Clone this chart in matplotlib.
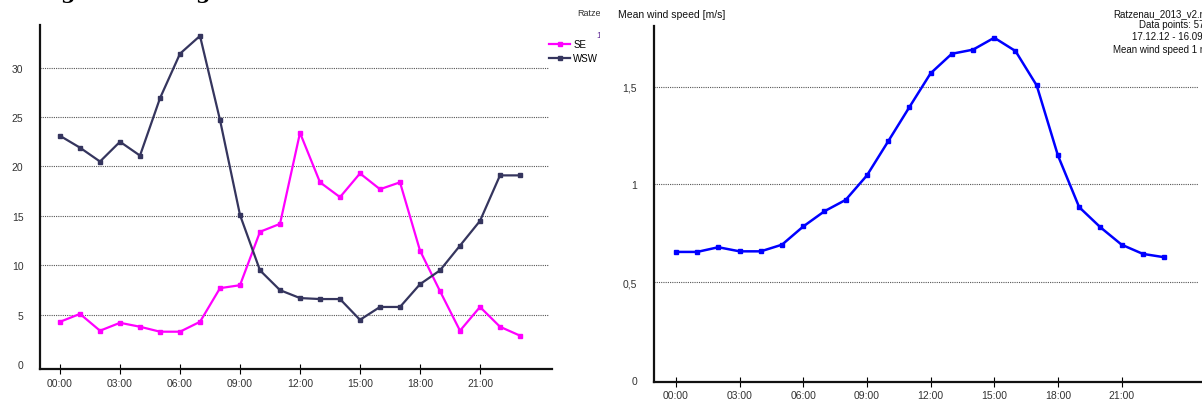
#!/usr/bin/env python3
"""Diurnal wind curves: frequency of SE/WSW directions and mean wind speed per hour."""

import matplotlib
matplotlib.use('Agg')
import matplotlib.pyplot as plt
from matplotlib.ticker import FuncFormatter
from matplotlib.transforms import Bbox

plt.rcParams['font.family'] = ['Liberation Sans', 'DejaVu Sans']

HOURS = list(range(24))
TICK_HOURS = [0, 3, 6, 9, 12, 15, 18, 21]
TICK_LABELS = ['00:00', '03:00', '06:00', '09:00', '12:00', '15:00', '18:00', '21:00']

SE = [4.3, 5.1, 3.4, 4.2, 3.8, 3.3, 3.3, 4.3, 7.7, 8.0, 13.4, 14.2,
      23.4, 18.4, 16.9, 19.3, 17.7, 18.4, 11.5, 7.4, 3.4, 5.8, 3.8, 2.9]
WSW = [23.1, 21.9, 20.5, 22.5, 21.1, 26.9, 31.4, 33.2, 24.7, 15.1, 9.5, 7.5,
       6.7, 6.6, 6.6, 4.5, 5.8, 5.8, 8.1, 9.5, 12.0, 14.5, 19.1, 19.1]
SPEED = [0.655, 0.655, 0.679, 0.658, 0.658, 0.692, 0.785, 0.863, 0.921, 1.046,
         1.22, 1.395, 1.568, 1.668, 1.689, 1.75, 1.682, 1.506, 1.148, 0.884,
         0.781, 0.692, 0.645, 0.628]

W, H = 1202, 402
TXT = '#333333'


def px_axes(fig, x0, y0, x1, y1):
    return fig.add_axes([x0 / W, 1 - y1 / H, (x1 - x0) / W, (y1 - y0) / H])


def style(ax, grid_vals, grid_end):
    for s in ('top', 'right'):
        ax.spines[s].set_visible(False)
    for s in ('left', 'bottom'):
        ax.spines[s].set_linewidth(1.6)
        ax.spines[s].set_color('#111111')
    for g in grid_vals:
        ax.plot([ax.get_xlim()[0], grid_end], [g, g], color='#555555',
                linestyle=(0, (1, 1)), linewidth=0.8, zorder=0)
    ax.set_xticks(TICK_HOURS)
    ax.set_xticklabels(TICK_LABELS)
    ax.tick_params(axis='x', direction='inout', length=7, width=0.8,
                   labelsize=7.5, labelcolor=TXT, pad=3)
    ax.tick_params(axis='y', length=0, labelsize=7.5, labelcolor=TXT, pad=12)


fig = plt.figure(figsize=(W / 100, H / 100), dpi=100)
left_clip = Bbox.from_extents(0, 0, 600, H)

# left panel: direction frequencies
ax1 = px_axes(fig, 40, 26, 552, 369.6)
ax1.plot(HOURS, SE, color='#ff00ff', lw=1.6, marker='s', ms=2.6, label='SE')
ax1.plot(HOURS, WSW, color='#35355e', lw=1.6, marker='s', ms=2.6, label='WSW')
ax1.set_xlim(-1, 24.6)
ax1.set_ylim(-0.43, 34.3)
ax1.set_yticks([0, 5, 10, 15, 20, 25, 30])
style(ax1, [5, 10, 15, 20, 25, 30], 24.4)
ax1.legend(loc='upper left', bbox_to_anchor=(549 / W, 1 - 40 / H),
           bbox_transform=fig.transFigure, frameon=False, fontsize=7,
           handlelength=2.2, handletextpad=0.3, labelspacing=0.45,
           borderpad=0, borderaxespad=0)
for s, x, y, c in [('Ratzenau', 577, 13, TXT), ('17', 596, 36, '#663399')]:
    t = fig.text(x / W, 1 - y / H, s, fontsize=6.5, color=c, va='center')
    t.set_clip_box(left_clip)
    t.set_clip_on(True)

# right panel: mean wind speed
ax2 = px_axes(fig, 653.8, 27, 1215, 383)
ax2.plot(HOURS, SPEED, color='#0000ff', lw=1.8, marker='s', ms=2.8)
ax2.set_xlim(-1.04, 25.4)
ax2.set_ylim(-0.01, 1.81)
ax2.set_yticks([0, 0.5, 1, 1.5])
ax2.yaxis.set_major_formatter(FuncFormatter(lambda v, p: f'{v:g}'.replace('.', ',')))
style(ax2, [0.5, 1, 1.5], 24.6)
ax2.tick_params(axis='x', pad=2)
fig.text(618 / W, 1 - 15 / H, 'Mean wind speed [m/s]', fontsize=7.5,
         color='#111111', va='center')

info = [('Ratzenau_2013_v2.mwd', 1113, 14), ('Data points: 5760', 1139, 25.5),
        ('17.12.12 - 16.09.13', 1132, 37), ('Mean wind speed 1 m/s', 1113, 50)]
for s, x, y in info:
    fig.text(x / W, 1 - y / H, s, fontsize=7, color='#111111', va='center')

# clipped heading descenders at the very top
for x in (60, 195):
    fig.text(x / W, 1 + 1 / H, 'g', fontsize=15, fontweight='bold',
             family='DejaVu Serif', va='baseline')

fig.savefig('out.png', dpi=100)
